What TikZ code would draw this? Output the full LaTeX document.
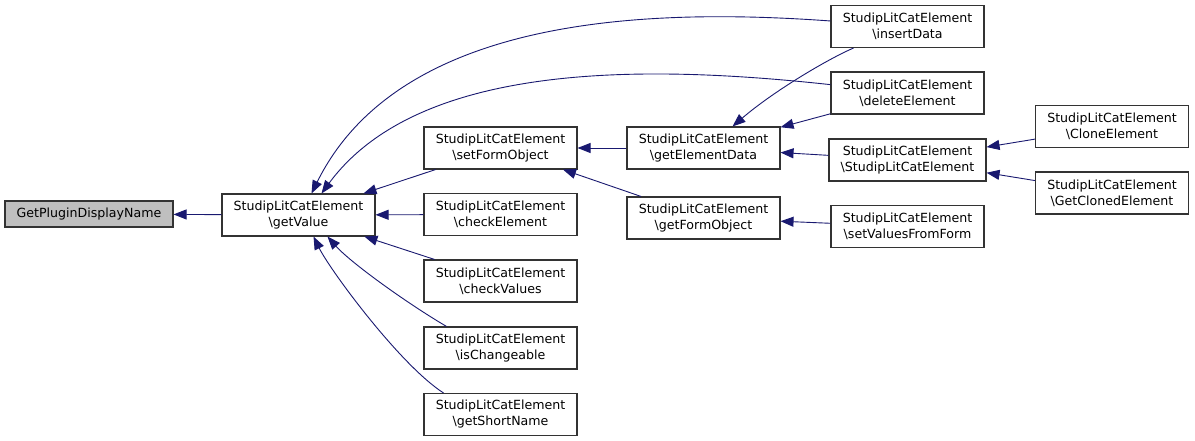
\documentclass[tikz,border=0pt]{standalone}
\usepackage{fontspec}
\setmainfont{DejaVu Sans}
\usetikzlibrary{arrows.meta}
\definecolor{edgeblue}{HTML}{191970}
\definecolor{rootgray}{HTML}{BFBFBF}
\newcommand\slcname[1]{StudipLitCatElement\\\textbackslash #1}
\begin{document}
\begin{tikzpicture}[x=1pt,y=-1pt,
  box/.style={draw=black!80, line width=1.1pt, minimum width=153pt, minimum height=42pt,
    inner sep=0pt, align=center, font=\fontsize{12.6}{16}\selectfont},
  edge/.style={draw=edgeblue, line width=0.9pt, -{Triangle[length=13pt,width=10pt]}, fill=none}]
\useasboundingbox (0,0) rectangle (1195,441);
\fill[white] (0,0) rectangle (1195,441);
% nodes
\node[box, fill=rootgray, minimum width=168pt, minimum height=26pt] (gpdn) at (89,214) {GetPluginDisplayName};
\node[box] (getValue) at (298.5,215) {\slcname{getValue}};
\node[box] (setFormObject) at (500.5,148) {\slcname{setFormObject}};
\node[box] (checkElement) at (500.5,214.5) {\slcname{checkElement}};
\node[box] (checkValues) at (500.5,281) {\slcname{checkValues}};
\node[box] (isChangeable) at (500.5,348) {\slcname{isChangeable}};
\node[box] (getShortName) at (500.5,414.5) {\slcname{getShortName}};
\node[box] (getElementData) at (703.5,148) {\slcname{getElementData}};
\node[box] (getFormObject) at (703.5,218) {\slcname{getFormObject}};
\node[box] (insertData) at (907.5,26.5) {\slcname{insertData}};
\node[box] (deleteElement) at (907.5,93) {\slcname{deleteElement}};
\node[box, minimum width=157pt] (ctor) at (907.5,160) {\slcname{StudipLitCatElement}};
\node[box] (setValuesFromForm) at (907.5,226.5) {\slcname{setValuesFromForm}};
\node[box] (cloneElement) at (1112,126.5) {\slcname{CloneElement}};
\node[box] (getClonedElement) at (1112,193) {\slcname{GetClonedElement}};
% edges
\draw[edge] (getValue) -- (gpdn);
\draw[edge] (setFormObject) -- (getValue);
\draw[edge] (checkElement) -- (getValue);
\draw[edge] (checkValues) -- (getValue);
\draw[edge] ([xshift=-54pt]isChangeable.north) .. controls (405,302) and (350,262) .. ([xshift=29pt]getValue.south);
\draw[edge] ([xshift=-57pt]getShortName.north) .. controls (400,365) and (330,270) .. ([xshift=15pt]getValue.south);
\draw[edge] (insertData) .. controls (650,8) and (400,15) .. ([xshift=13pt]getValue.north);
\draw[edge] (deleteElement) .. controls (650,65) and (420,60) .. ([xshift=23pt]getValue.north);
\draw[edge] (getElementData) -- (setFormObject);
\draw[edge] (getFormObject) -- (setFormObject);
\draw[edge] ([xshift=-54pt]insertData.south) .. controls (830,58) and (775,90) .. ([xshift=29pt]getElementData.north);
\draw[edge] (deleteElement) -- (getElementData);
\draw[edge] (ctor) -- (getElementData);
\draw[edge] (setValuesFromForm) -- (getFormObject);
\draw[edge] (cloneElement) -- (ctor);
\draw[edge] (getClonedElement) -- (ctor);
\end{tikzpicture}
\end{document}
